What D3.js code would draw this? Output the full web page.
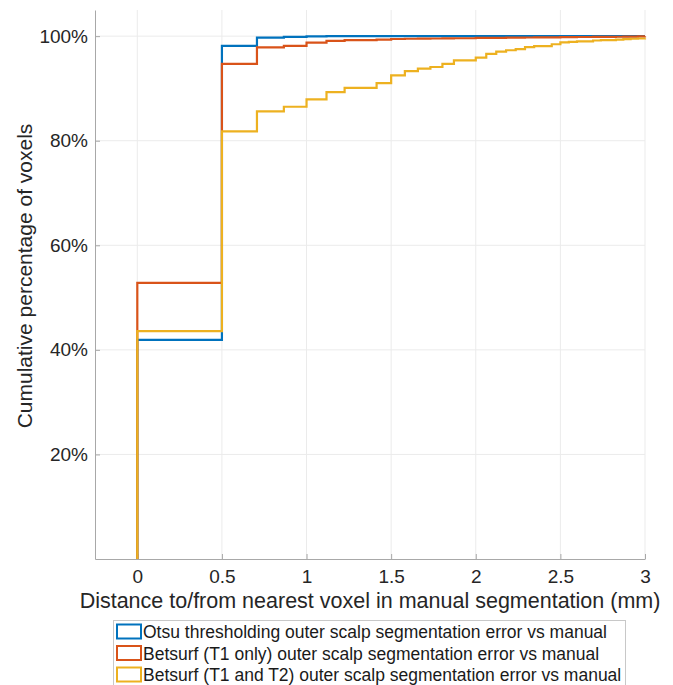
<!DOCTYPE html>
<html>
<head>
<meta charset="utf-8">
<script src="https://cdn.jsdelivr.net/npm/d3@7"></script>
<style>
  body { margin: 0; background: #fff; }
  svg { display: block; font-family: "Liberation Sans", Arial, Helvetica, sans-serif; }
</style>
</head>
<body>
<div id="frame-cdf"></div>
<script>
// CHART VARIABLES
const width = 673;
const height = 685;
const margin = {top: 10, right: 28, bottom: 126, left: 95};

// data: distance steps (mm) and cumulative percentage for each method
const distances = [0, 0.5, 0.707, 0.866, 1.0, 1.118, 1.225, 1.414, 1.5, 1.581, 1.658, 1.732, 1.803, 1.871,
    2.0, 2.062, 2.121, 2.179, 2.236, 2.291, 2.345, 2.449, 2.5, 2.55, 2.598, 2.693, 2.739, 2.828, 2.872, 2.915, 2.958, 3.0];
const otsuPct = [41.9, 98.15, 99.7, 99.85, 99.97, 100, 100, 100, 100, 100, 100, 100, 100, 100,
    100, 100, 100, 100, 100, 100, 100, 100, 100, 100, 100, 100, 100, 100, 100, 100, 100, 100];
const betsurfT1Pct = [52.8, 94.7, 97.85, 98.15, 98.75, 99.1, 99.25, 99.35, 99.45, 99.5, 99.52, 99.55, 99.58, 99.6,
    99.65, 99.67, 99.68, 99.7, 99.72, 99.74, 99.76, 99.78, 99.8, 99.82, 99.84, 99.86, 99.87, 99.88, 99.9, 99.92, 99.95, 100];
const betsurfT1T2Pct = [43.6, 81.8, 85.6, 86.5, 87.9, 89.3, 90.1, 91.0, 92.5, 93.3, 93.8, 94.1, 94.7, 95.35,
    95.9, 96.6, 97.05, 97.3, 97.5, 97.9, 98.1, 98.45, 98.8, 98.9, 99.0, 99.17, 99.25, 99.35, 99.43, 99.5, 99.55, 99.6];

const seriesNames = [
    "Otsu thresholding outer scalp segmentation error vs manual",
    "Betsurf (T1 only) outer scalp segmentation error vs manual",
    "Betsurf (T1 and T2) outer scalp segmentation error vs manual"
];
const seriesValues = [otsuPct, betsurfT1Pct, betsurfT1T2Pct];
const seriesColors = ["#0072BD", "#D95319", "#EDB120"];

const xTicks = [0, 0.5, 1, 1.5, 2, 2.5, 3];
const yTicks = [20, 40, 60, 80, 100];

// svg
const svg = d3.select("#frame-cdf")
    .append("svg")
        .attr("width", width)
        .attr("height", height)
        .attr("viewBox", [0, 0, width, height]);

// scales
const x = d3.scaleLinear()
    .domain([-0.25, 3])
    .range([margin.left, width - margin.right]);

const y = d3.scaleLinear()
    .domain([0, 105])
    .range([height - margin.bottom, margin.top]);

// grid
const grid = svg.append("g").attr("class", "grid")
    .attr("stroke", "#ebebeb")
    .attr("stroke-width", 1);

grid.selectAll("line.gx")
    .data(xTicks)
    .enter()
    .append("line")
        .attr("class", "gx")
        .attr("x1", d => x(d))
        .attr("x2", d => x(d))
        .attr("y1", y.range()[0])
        .attr("y2", y.range()[1]);

grid.selectAll("line.gy")
    .data(yTicks)
    .enter()
    .append("line")
        .attr("class", "gy")
        .attr("x1", x.range()[0])
        .attr("x2", x.range()[1])
        .attr("y1", d => y(d))
        .attr("y2", d => y(d));

// axes
const xAxis = svg.append("g")
    .attr("transform", `translate(0,${height - margin.bottom})`)
    .call(d3.axisBottom(x)
        .tickValues(xTicks)
        .tickFormat(d3.format("~g"))
        .tickSizeInner(-5)
        .tickSizeOuter(0)
        .tickPadding(11));

const yAxis = svg.append("g")
    .attr("transform", `translate(${margin.left},0)`)
    .call(d3.axisLeft(y)
        .tickValues(yTicks)
        .tickFormat(d => d + "%")
        .tickSizeInner(-5)
        .tickSizeOuter(0)
        .tickPadding(7));

[xAxis, yAxis].forEach(ax => {
    ax.select(".domain").attr("stroke", "#a8a8a8");
    ax.selectAll(".tick line").attr("stroke", "#a8a8a8");
    ax.selectAll(".tick text")
        .attr("fill", "#262626")
        .attr("font-size", 19)
        .attr("font-family", "Liberation Sans, Arial, sans-serif");
});

// axis labels
svg.append("text")
    .attr("x", (x.range()[0] + x.range()[1]) / 2)
    .attr("y", 608)
    .attr("text-anchor", "middle")
    .attr("font-size", 21.5)
    .attr("fill", "#262626")
    .text("Distance to/from nearest voxel in manual segmentation (mm)");

svg.append("text")
    .attr("transform", "translate(32,276) rotate(-90)")
    .attr("text-anchor", "middle")
    .attr("font-size", 21)
    .attr("fill", "#262626")
    .text("Cumulative percentage of voxels");

// ecdf stairs, each starting from 0 at the first distance
const line = d3.line()
    .x(d => x(d[0]))
    .y(d => y(d[1]))
    .curve(d3.curveStepAfter);

svg.append("g")
        .attr("class", "g-lines")
    .selectAll("path")
    .data(seriesValues)
    .enter()
    .append("path")
        .attr("fill", "none")
        .attr("stroke", (d, i) => seriesColors[i])
        .attr("stroke-width", 2.2)
        .attr("d", vals => line([[distances[0], 0]].concat(vals.map((v, j) => [distances[j], v]))));

// legend
const legend = svg.append("g").attr("class", "legend");
legend.append("rect")
    .attr("x", 113.5)
    .attr("y", 620.5)
    .attr("width", 512)
    .attr("height", 72)
    .attr("fill", "#fff")
    .attr("stroke", "#c8c8c8")
    .attr("stroke-width", 1);

const rowY = i => 631.5 + i * 21.5;

legend.selectAll("rect.sw")
    .data(seriesNames)
    .enter()
    .append("rect")
        .attr("class", "sw")
        .attr("x", 117)
        .attr("y", (d, i) => rowY(i) - 7)
        .attr("width", 24)
        .attr("height", 14)
        .attr("fill", "#fff")
        .attr("stroke", (d, i) => seriesColors[i])
        .attr("stroke-width", 2);

legend.selectAll("text")
    .data(seriesNames)
    .enter()
    .append("text")
        .attr("x", 143)
        .attr("y", (d, i) => rowY(i) + 6.5)
        .attr("font-size", 17.5)
        .attr("fill", "#1a1a1a")
        .text(d => d);
</script>
</body>
</html>
